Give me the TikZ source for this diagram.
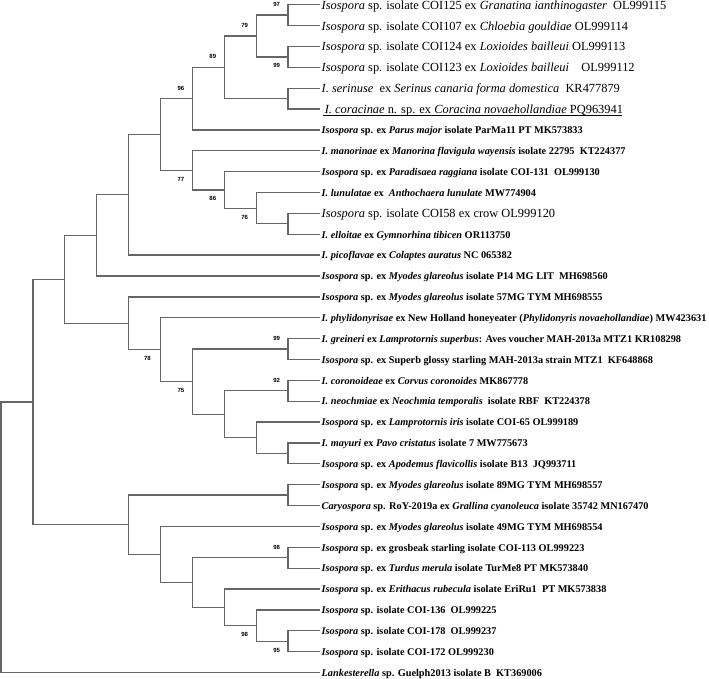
\documentclass[tikz,border=0pt]{standalone}
\usepackage{fontspec}
\setmainfont{Liberation Serif}
\newfontfamily\bsfont{Liberation Sans}
\usetikzlibrary{calc}

\begin{document}
\begin{tikzpicture}[x=31.9pt,y=-20.87pt,
  br/.style={draw=black!60,line width=1.3pt},
  big/.style={anchor=west,inner sep=1.5pt,font=\fontsize{12.4}{14}\selectfont,text height=11.6pt,text depth=2.5pt},
  small/.style={anchor=west,inner sep=1.5pt,font=\fontsize{10.3}{12}\selectfont\bfseries,text height=9.6pt,text depth=2.1pt},
  bsup/.style={font=\bsfont\bfseries\fontsize{6}{7}\selectfont,inner sep=0pt,xshift=-11.5pt,yshift=10.5pt},
  bsdn/.style={font=\bsfont\bfseries\fontsize{6}{7}\selectfont,inner sep=0pt,xshift=-11.5pt,yshift=-9pt}]
\useasboundingbox (-0.031,0.775) rectangle (22.195,33.31);

\node[big] (l1) at (10,1) {\textit{Isospora} sp. isolate COI125 ex \textit{Granatina ianthinogaster}\ \ OL999115};
\node[big] (l2) at (10,2) {\textit{Isospora} sp. isolate COI107 ex \textit{Chloebia gouldiae} OL999114};
\node[big] (l3) at (10,3) {\textit{Isospora} sp. isolate COI124 ex \textit{Loxioides bailleui} OL999113};
\node[big] (l4) at (10,4) {\textit{Isospora} sp. isolate COI123 ex \textit{Loxioides bailleui}\quad OL999112};
\node[big] (l5) at (10,5) {\textit{I. serinuse}\ \ ex \textit{Serinus canaria forma domestica}\ \ KR477879};
\node[big] (l6) at (10,6) {\ \textit{I. coracinae} n. sp. ex \textit{Coracina novaehollandiae} PQ963941};
\node[small] (l7) at (10,7) {\textit{Isospora} sp. ex \textit{Parus major} isolate ParMa11 PT MK573833};
\node[small] (l8) at (10,8) {\textit{I. manorinae} ex \textit{Manorina flavigula wayensis} isolate 22795\ \ KT224377};
\node[small] (l9) at (10,9) {\textit{Isospora} sp. ex \textit{Paradisaea raggiana} isolate COI-131\ \ OL999130};
\node[small] (l10) at (10,10) {\textit{I. lunulatae} ex\ \ \textit{Anthochaera lunulate} MW774904};
\node[big] (l11) at (10,11) {\textit{Isospora} sp. isolate COI58 ex crow OL999120};
\node[small] (l12) at (10,12) {\textit{I. elloitae} ex \textit{Gymnorhina tibicen} OR113750};
\node[small] (l13) at (10,13) {\textit{I. picoflavae} ex \textit{Colaptes auratus} NC 065382};
\node[small] (l14) at (10,14) {\textit{Isospora} sp. ex \textit{Myodes glareolus} isolate P14 MG LIT\ \ MH698560};
\node[small] (l15) at (10,15) {\textit{Isospora} sp. ex \textit{Myodes glareolus} isolate 57MG TYM MH698555};
\node[small] (l16) at (10,16) {\textit{I. phylidonyrisae} ex New Holland honeyeater (\textit{Phylidonyris novaehollandiae}) MW423631};
\node[small] (l17) at (10,17) {\textit{I. greineri} ex \textit{Lamprotornis superbus}: Aves voucher MAH-2013a MTZ1 KR108298};
\node[small] (l18) at (10,18) {\textit{Isospora} sp. ex Superb glossy starling MAH-2013a strain MTZ1\ \ KF648868};
\node[small] (l19) at (10,19) {\textit{I. coronoideae} ex \textit{Corvus coronoides} MK867778};
\node[small] (l20) at (10,20) {\textit{I. neochmiae} ex \textit{Neochmia temporalis}\ \ isolate RBF\ \ KT224378};
\node[small] (l21) at (10,21) {\textit{Isospora} sp. ex \textit{Lamprotornis iris} isolate COI-65 OL999189};
\node[small] (l22) at (10,22) {\textit{I. mayuri} ex \textit{Pavo cristatus} isolate 7 MW775673};
\node[small] (l23) at (10,23) {\textit{Isospora} sp. ex \textit{Apodemus flavicollis} isolate B13\ \ JQ993711};
\node[small] (l24) at (10,24) {\textit{Isospora} sp. ex \textit{Myodes glareolus} isolate 89MG TYM MH698557};
\node[small] (l25) at (10,25) {\textit{Caryospora} sp. RoY-2019a ex \textit{Grallina cyanoleuca} isolate 35742 MN167470};
\node[small] (l26) at (10,26) {\textit{Isospora} sp. ex \textit{Myodes glareolus} isolate 49MG TYM MH698554};
\node[small] (l27) at (10,27) {\textit{Isospora} sp. ex grosbeak starling isolate COI-113 OL999223};
\node[small] (l28) at (10,28) {\textit{Isospora} sp. ex \textit{Turdus merula} isolate TurMe8 PT MK573840};
\node[small] (l29) at (10,29) {\textit{Isospora} sp. ex \textit{Erithacus rubecula} isolate EriRu1\ \ PT MK573838};
\node[small] (l30) at (10,30) {\textit{Isospora} sp. isolate COI-136\ \ OL999225};
\node[small] (l31) at (10,31) {\textit{Isospora} sp. isolate COI-178\ \ OL999237};
\node[small] (l32) at (10,32) {\textit{Isospora} sp. isolate COI-172 OL999230};
\node[small] (l33) at (10,33) {\textit{Lankesterella} sp. Guelph2013 isolate B\ \ KT369006};

\coordinate (nA) at (9,1.5);
\coordinate (nB) at (9,3.5);
\coordinate (nC) at (8,2.5);
\coordinate (nD) at (9,5.5);
\coordinate (nE) at (7,4);
\coordinate (nF) at (6,5.5);
\coordinate (nR) at (9,11.5);
\coordinate (nQ) at (8,10.75);
\coordinate (nP) at (7,9.875);
\coordinate (nH) at (6,8.9375);
\coordinate (nG) at (5,7.21875);
\coordinate (nI) at (4,10.109);
\coordinate (nJ) at (3,12.055);
\coordinate (nU) at (9,17.5);
\coordinate (nW) at (9,19.5);
\coordinate (nY) at (9,22.5);
\coordinate (nX) at (8,21.75);
\coordinate (nV) at (7,20.625);
\coordinate (nT) at (6,19.0625);
\coordinate (nS) at (5,17.531);
\coordinate (nL) at (4,16.266);
\coordinate (nK) at (2,14.16);
\coordinate (nZ) at (9,24.5);
\coordinate (nCC) at (9,27.5);
\coordinate (nFF) at (9,31.5);
\coordinate (nEE) at (8,30.75);
\coordinate (nDD) at (7,29.875);
\coordinate (nBB) at (6,28.6875);
\coordinate (nAA) at (5,27.344);
\coordinate (nN) at (4,25.922);
\coordinate (nM) at (1,20.041);
\coordinate (root) at (0,26.52);

\draw[br] (nA) |- (l1.west) (nA) |- (l2.west);
\draw[br] (nB) |- (l3.west) (nB) |- (l4.west);
\draw[br] (nC) |- (nA) (nC) |- (nB);
\draw[br] (nD) |- (l5.west) (nD) |- (l6.west);
\draw[br] (nE) |- (nC) (nE) |- (nD);
\draw[br] (nF) |- (nE) (nF) |- (l7.west);
\draw[br] (nR) |- (l11.west) (nR) |- (l12.west);
\draw[br] (nQ) |- (l10.west) (nQ) |- (nR);
\draw[br] (nP) |- (l9.west) (nP) |- (nQ);
\draw[br] (nH) |- (l8.west) (nH) |- (nP);
\draw[br] (nG) |- (nF) (nG) |- (nH);
\draw[br] (nI) |- (nG) (nI) |- (l13.west);
\draw[br] (nJ) |- (nI) (nJ) |- (l14.west);
\draw[br] (nU) |- (l17.west) (nU) |- (l18.west);
\draw[br] (nW) |- (l19.west) (nW) |- (l20.west);
\draw[br] (nY) |- (l22.west) (nY) |- (l23.west);
\draw[br] (nX) |- (l21.west) (nX) |- (nY);
\draw[br] (nV) |- (nW) (nV) |- (nX);
\draw[br] (nT) |- (nU) (nT) |- (nV);
\draw[br] (nS) |- (l16.west) (nS) |- (nT);
\draw[br] (nL) |- (l15.west) (nL) |- (nS);
\draw[br] (nK) |- (nJ) (nK) |- (nL);
\draw[br] (nZ) |- (l24.west) (nZ) |- (l25.west);
\draw[br] (nCC) |- (l27.west) (nCC) |- (l28.west);
\draw[br] (nFF) |- (l31.west) (nFF) |- (l32.west);
\draw[br] (nEE) |- (l30.west) (nEE) |- (nFF);
\draw[br] (nDD) |- (l29.west) (nDD) |- (nEE);
\draw[br] (nBB) |- (nCC) (nBB) |- (nDD);
\draw[br] (nAA) |- (l26.west) (nAA) |- (nBB);
\draw[br] (nN) |- (nZ) (nN) |- (nAA);
\draw[br] (nM) |- (nK) (nM) |- (nN);
\draw[br] (root) |- (nM) (root) |- (l33.west);

\draw[line width=0.7pt] ($(l6.base west)+(3pt,-2.2pt)$) -- ($(l6.base west)+(302pt,-2.2pt)$);

\node[bsup] (bA) at (nA) {97};
\node[bsdn] (bB) at (nB) {99};
\node[bsup] (bC) at (nC) {79};
\node[bsup] (bE) at (nE) {89};
\node[bsup] (bF) at (nF) {96};
\node[bsdn] (bH) at (nH) {77};
\node[bsdn] (bP) at (nP) {86};
\node[bsdn] (bQ) at (nQ) {76};
\node[bsup] (bU) at (nU) {99};
\node[bsdn,xshift=-1.5pt] (bS) at (nS) {78};
\node[bsdn] (bT) at (nT) {75};
\node[bsup] (bW) at (nW) {92};
\node[bsup] (bCC) at (nCC) {98};
\node[bsdn] (bEE) at (nEE) {98};
\node[bsdn] (bFF) at (nFF) {95};
\end{tikzpicture}
\end{document}
